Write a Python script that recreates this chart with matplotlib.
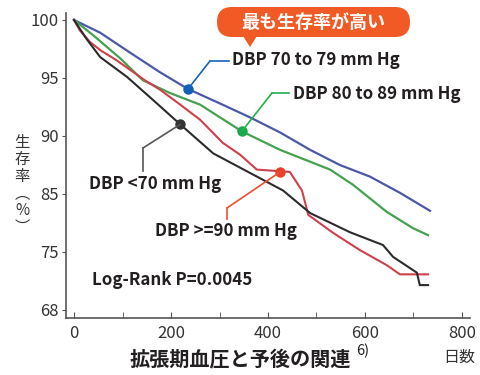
import numpy as np
from matplotlib import pyplot as plt
from matplotlib.patches import FancyBboxPatch, Polygon, ConnectionPatch
from matplotlib.lines import Line2D

plt.rcParams['font.family'] = ['Noto Sans CJK JP', 'DejaVu Sans']

# datos (dias, supervivencia %)
dias_70_79 = [0, 54, 115, 177, 235, 301, 363, 425, 487, 548, 610, 672, 734]
surv_70_79 = [100, 98.9, 97.2, 95.5, 94.05, 92.8, 91.6, 90.3, 88.8, 87.5, 86.5, 85.1, 82.1]

dias_80_89 = [0, 39, 95, 142, 198, 260, 346, 425, 528, 575, 645, 699, 730]
surv_80_89 = [100, 98.7, 96.7, 94.8, 93.7, 92.7, 90.4, 88.8, 87.1, 85.8, 81.9, 79.1, 77.9]

dias_90 = [0, 12, 33, 54, 85, 109, 146, 177, 219, 260, 307, 342, 377, 445, 470,
           483, 534, 590, 645, 672, 730]
surv_90 = [100, 99.1, 98.1, 97.4, 96.6, 95.9, 94.8, 94.0, 92.7, 91.4, 89.4, 88.4,
           87.1, 86.9, 85.3, 81.4, 78.3, 75.3, 73.4, 72.3, 72.3]

dias_70 = [0, 27, 54, 109, 163, 219, 287, 377, 431, 487, 569, 637, 658, 707, 713, 730]
surv_70 = [100, 98.3, 96.8, 95.1, 93.1, 91.0, 88.5, 86.5, 85.3, 81.7, 78.4, 76.2,
           74.4, 72.5, 71.0, 71.0]

y_ticks = [68, 75, 85, 90, 95, 100]
x_ticks = [0, 200, 400, 600, 800]

# eje y no lineal: cada marca a la misma distancia
VALS = [61, 68, 75, 85, 90, 95, 100, 105]
IDX = [-1, 0, 1, 2, 3, 4, 5, 6]


def fwd(v):
    return np.interp(v, VALS, IDX)


def inv(i):
    return np.interp(i, IDX, VALS)


def P(px, py):
    # pixeles de la imagen -> pulgadas de la figura
    return (px / 100, (375 - py) / 100)


TXT = '#231f20'

fig = plt.figure(figsize=(4.8, 3.75), dpi=100)
ax = fig.add_axes([66 / 480, 1 - 318 / 375, 404 / 480, 305 / 375])
ax.set_yscale('function', functions=(fwd, inv))

ax.plot(dias_70_79, surv_70_79, color='#4b58a6', lw=1.6)
ax.plot(dias_80_89, surv_80_89, color='#45a150', lw=1.6)
ax.plot(dias_90, surv_90, color='#cf3f4c', lw=1.5)
ax.plot(dias_70, surv_70, color='#2b2b2b', lw=1.5)

ax.set_xlim(-16.5, 816.5)
ax.set_ylim(67.03, 100.6)
ax.set_yticks(y_ticks)
ax.set_yticklabels([str(t) for t in y_ticks])
ax.set_xticks(x_ticks)
ax.set_xticks([100, 300, 500, 700], minor=True)
ax.yaxis.set_minor_locator(plt.NullLocator())
ax.tick_params(axis='x', which='both', direction='in', length=4, color='#555555',
               labelsize=12, labelcolor='#333333', pad=5)
ax.tick_params(axis='y', direction='out', length=3, color='#555555',
               labelsize=12, labelcolor='#333333', pad=2)
for s in ['top', 'right']:
    ax.spines[s].set_visible(False)
for s in ['left', 'bottom']:
    ax.spines[s].set_color('#555555')
    ax.spines[s].set_linewidth(1.2)

tr = fig.dpi_scale_trans


def leader(day, val, pts, lcol, mcol):
    ax.plot([day], [val], 'o', color=mcol, ms=6.5, zorder=5)
    cp = ConnectionPatch(xyA=(day, val), coordsA=ax.transData,
                         xyB=P(*pts[0]), coordsB=tr, color=lcol, lw=1.2)
    fig.add_artist(cp)
    xs = [P(*p)[0] for p in pts]
    ys = [P(*p)[1] for p in pts]
    fig.add_artist(Line2D(xs, ys, transform=tr, color=lcol, lw=1.2))


leader(235, 94.05, [(210, 61), (229, 61)], '#1565c0', '#1160b8')
leader(346, 90.4, [(272, 93), (289, 93)], '#22b04b', '#1aa84a')
leader(219, 91.0, [(143, 148), (143, 171)], '#555555', '#333333')
leader(425, 86.9, [(227, 208), (227, 219)], '#f04e30', '#e8402a')

lab = dict(transform=tr, fontsize=12.2, fontweight='bold', color=TXT, va='center')
fig.text(*P(232, 60), 'DBP 70 to 79 mm Hg', **lab)
fig.text(*P(293, 94), 'DBP 80 to 89 mm Hg', **lab)
fig.text(*P(89, 184), 'DBP <70 mm Hg', **lab)
fig.text(*P(155, 231), 'DBP >=90 mm Hg', **lab)
fig.text(*P(92, 280), 'Log-Rank P=0.0045', **lab)

# globo naranja
naranja = '#f15a24'
x0, y0 = P(217, 37)
box = FancyBboxPatch((x0, y0), 1.93, 0.30, boxstyle='round,pad=0,rounding_size=0.15',
                     transform=tr, facecolor=naranja, edgecolor='none')
fig.add_artist(box)
fig.add_artist(Polygon([P(243, 36), P(257, 36), P(250, 47)], closed=True,
                       transform=tr, facecolor=naranja, edgecolor='none'))
fig.text(*P(313, 22), '最も生存率が高い', transform=tr, fontsize=13,
         fontweight='bold', color='white', ha='center', va='center')

fig.text(*P(22, 185), '生\n存\n率\n︵\n%\n︶', transform=tr, fontsize=11,
         color='#333333', ha='center', va='center', linespacing=1.0)

fig.text(*P(240, 360), '拡張期血圧と予後の関連', transform=tr, fontsize=14.5,
         fontweight='bold', color=TXT, ha='center', va='center')
fig.text(*P(356, 351), '6)', transform=tr, fontsize=10.5, color=TXT, va='center')
fig.text(*P(459, 357), '日数', transform=tr, fontsize=11.5, color='#333333',
         ha='center', va='center')

fig.savefig('out.png', dpi=100)
